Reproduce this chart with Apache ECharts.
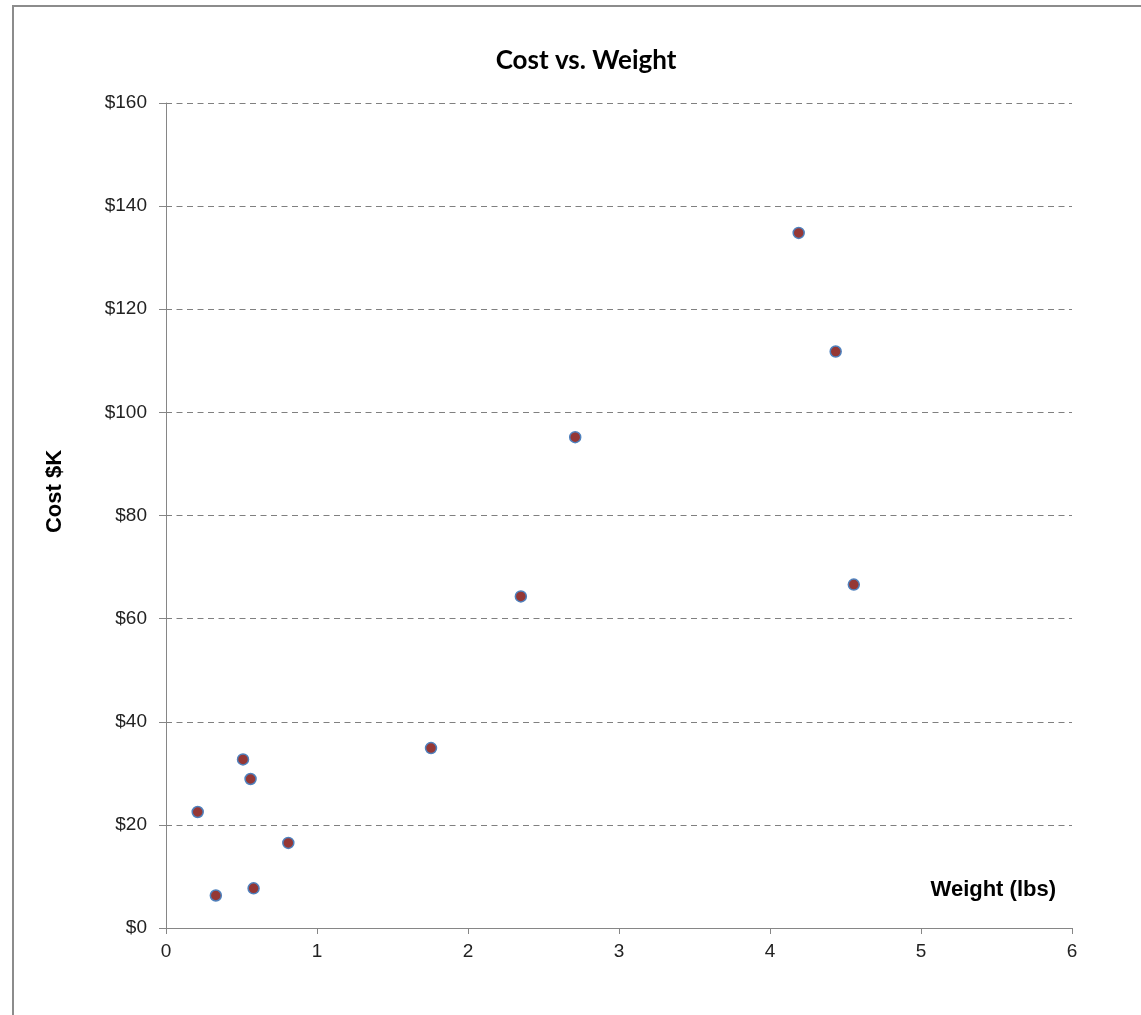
<!DOCTYPE html>
<html>
<head>
<meta charset="utf-8">
<script src="https://cdn.jsdelivr.net/npm/echarts@6/dist/echarts.min.js"></script>
<style>
html,body{margin:0;padding:0;background:#fff;}
#main{width:1141px;height:1015px;}
</style>
</head>
<body>
<div id="main"></div>
<script>
const weights = [0.21, 0.33, 0.51, 0.56, 0.58, 0.81, 1.755, 2.35, 2.71, 4.19, 4.435, 4.555];
const costs = [22.5, 6.3, 32.7, 28.9, 7.7, 16.5, 34.9, 64.3, 95.2, 134.8, 111.8, 66.6];
const xTicks = [0, 1, 2, 3, 4, 5, 6];
const yTicks = [0, 20, 40, 60, 80, 100, 120, 140, 160];

const chart = echarts.init(document.getElementById('main'), null, {renderer: 'canvas'});
const points = weights.map((w, i) => [w, costs[i]]);
chart.setOption({
  animation: false,
  backgroundColor: '#ffffff',
  graphic: [{
    type: 'rect', silent: true,
    shape: {x: 13, y: 6, width: 1200, height: 1100},
    style: {fill: 'none', stroke: '#8c8c8c', lineWidth: 2}
  }],
  title: {
    text: 'Cost vs. Weight', left: 581, textAlign: 'center', top: 43,
    textStyle: {fontFamily: 'Lato', fontWeight: 'bold', fontSize: 26, color: '#000'}
  },
  grid: {left: 166, right: 69, top: 103, bottom: 87},
  xAxis: {
    type: 'value', min: xTicks[0], max: xTicks[xTicks.length - 1], interval: 1,
    name: 'Weight (lbs)', nameLocation: 'end', nameGap: -16,
    nameTextStyle: {fontFamily: 'Liberation Sans', fontWeight: 'bold', fontSize: 22, color: '#000', align: 'right', verticalAlign: 'bottom', padding: [0, 0, 27, 0]},
    axisLine: {lineStyle: {color: '#868686', width: 1}},
    axisTick: {show: true, length: 6, lineStyle: {color: '#868686'}},
    axisLabel: {fontFamily: 'Liberation Sans', fontSize: 19, color: '#222', margin: 14},
    splitLine: {show: false}
  },
  yAxis: {
    type: 'value', min: yTicks[0], max: yTicks[yTicks.length - 1], interval: 20,
    name: 'Cost $K', nameLocation: 'middle', nameGap: 100, nameRotate: 90,
    nameTextStyle: {fontFamily: 'Liberation Sans', fontWeight: 'bold', fontSize: 22, color: '#000', padding: [0, 0, 0, 48]},
    axisLine: {show: true, lineStyle: {color: '#868686', width: 1}},
    axisTick: {show: true, length: 7, lineStyle: {color: '#868686'}},
    axisLabel: {fontFamily: 'Liberation Sans', fontSize: 19, color: '#222', margin: 19, formatter: v => '$' + v},
    splitLine: {show: true, lineStyle: {color: '#808080', type: [6, 4.5], width: 1}}
  },
  series: [{
    type: 'scatter',
    data: points,
    symbol: 'circle',
    symbolSize: 11,
    itemStyle: {color: '#953735', borderColor: '#4f81bd', borderWidth: 1.5, opacity: 1}
  }]
});
</script>
</body>
</html>
